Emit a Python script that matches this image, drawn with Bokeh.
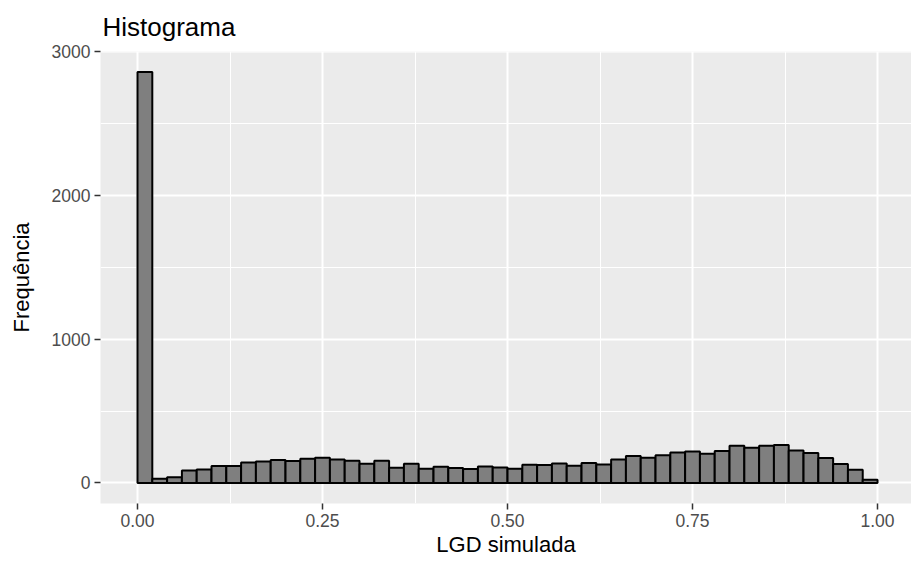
import numpy as np
from bokeh.plotting import figure
from bokeh.models import Range1d, FixedTicker, NumeralTickFormatter, ColumnDataSource
from bokeh.embed import file_html
from bokeh.resources import INLINE

# Histogram data
bin_start = 0.0
bin_width = 0.02
counts = [2860, 30, 39, 87, 94, 118, 118, 143, 150, 160,
          153, 169, 176, 164, 155, 134, 155, 106, 134, 99,
          113, 104, 97, 115, 108, 99, 127, 125, 136, 120,
          139, 129, 164, 187, 176, 192, 212, 219, 203, 222,
          259, 245, 259, 264, 226, 208, 173, 132, 92, 23]
x_ticks = [0.0, 0.25, 0.5, 0.75, 1.0]
x_minor = [0.125, 0.375, 0.625, 0.875]
y_ticks = [0, 1000, 2000, 3000]
y_minor = [500, 1500, 2500]

lefts = [bin_start + i * bin_width for i in range(len(counts))]
rights = [l + bin_width for l in lefts]
src = ColumnDataSource(dict(left=lefts, right=rights, top=counts, bottom=[0] * len(counts)))

FONT = "Liberation Sans"

p = figure(width=911, height=563, output_backend="svg", toolbar_location=None,
           x_range=Range1d(-0.05, 1.0459), y_range=Range1d(-143, 3003),
           min_border_left=100, min_border_right=0, min_border_top=51, min_border_bottom=60,
           title="Histograma")
p.background_fill_color = "#EBEBEB"
p.border_fill_color = "white"
p.outline_line_color = None

p.title.text_font = FONT
p.title.text_font_size = "26px"
p.title.text_font_style = "normal"
p.title.text_color = "black"
p.title.align = "left"
p.title.offset = 2
p.title.standoff = 19

p.quad(left="left", right="right", top="top", bottom="bottom", source=src,
       fill_color="#7F7F7F", line_color="black", line_width=2)

xt = FixedTicker(ticks=x_ticks, minor_ticks=x_minor)
yt = FixedTicker(ticks=y_ticks, minor_ticks=y_minor)
p.xaxis.ticker = xt
p.yaxis.ticker = yt
p.xgrid.ticker = xt
p.ygrid.ticker = yt
p.xaxis.formatter = NumeralTickFormatter(format="0.00")

for g in (p.xgrid, p.ygrid):
    g.grid_line_color = "white"
    g.grid_line_width = 2
    g.minor_grid_line_color = "white"
    g.minor_grid_line_width = 1

for ax in (p.xaxis, p.yaxis):
    ax.axis_line_color = None
    ax.major_tick_line_color = "#333333"
    ax.major_tick_line_width = 1.5
    ax.major_tick_out = 6
    ax.major_tick_in = 0
    ax.minor_tick_line_color = None
    ax.major_label_text_font = FONT
    ax.major_label_text_font_size = "17.5px"
    ax.major_label_text_color = "#4D4D4D"
    ax.major_label_standoff = 4
    ax.axis_label_text_font = FONT
    ax.axis_label_text_font_size = "22px"
    ax.axis_label_text_font_style = "normal"
    ax.axis_label_text_color = "black"

p.xaxis.axis_label = "LGD simulada"
p.yaxis.axis_label = "Frequência"
p.xaxis.axis_label_standoff = 2
p.yaxis.axis_label_standoff = 15

open("out.html", "w").write(file_html(p, INLINE))
